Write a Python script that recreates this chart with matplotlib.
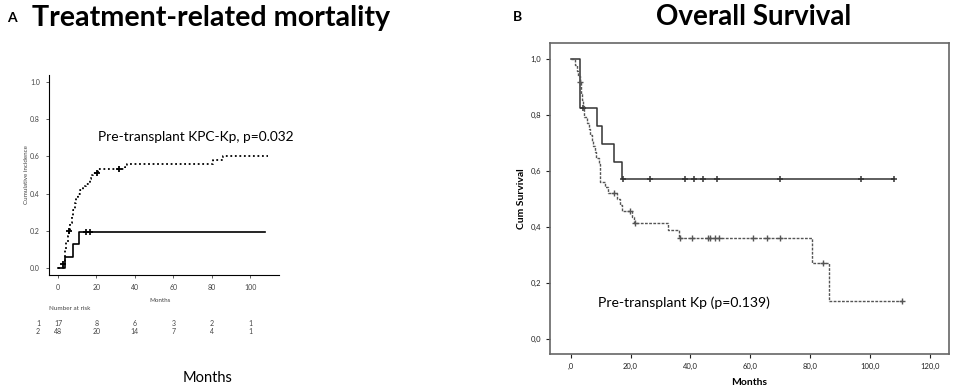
import numpy as np
import matplotlib.pyplot as plt

plt.rcParams['font.family'] = ['Lato', 'DejaVu Sans']

# ---- Panel A: treatment-related mortality (cumulative incidence) ----
a_g1_t = [0, 3.5, 8.0, 10.9]
a_g1_v = [0, 0.059, 0.125, 0.19]
a_g1_end = 107.7
a_g1_cens = [14.4, 16.8]

a_g2_t = [0, 2.5, 3.4, 3.8, 4.4, 5.0, 5.6, 6.4, 7.2, 8.0, 8.8, 9.6, 10.4,
          11.6, 13.0, 14.8, 16.6, 17.4, 18.2, 21.0, 35.0, 36.0, 80.5, 86.0]
a_g2_v = [0, 0.02, 0.06, 0.10, 0.14, 0.17, 0.20, 0.24, 0.28, 0.31, 0.35, 0.38,
          0.40, 0.42, 0.44, 0.45, 0.48, 0.50, 0.51, 0.53, 0.545, 0.558, 0.58, 0.605]
a_g2_end = 109.4
a_g2_cens = [2.8, 5.7, 20.1, 31.9]

risk_times = [0, 20, 40, 60, 80, 100]
risk_g1 = [17, 8, 6, 3, 2, 1]
risk_g2 = [48, 20, 14, 7, 4, 1]

# ---- Panel B: overall survival ----
b_g1_t = [0, 3.1, 8.7, 10.6, 14.5, 17.1]
b_g1_v = [1.0, 0.824, 0.761, 0.697, 0.634, 0.571]
b_g1_end = 107.8
b_g1_cens = [4.2, 17.4, 26.6, 38.3, 41.1, 44.2, 48.7, 69.9, 96.9, 107.8]

b_g2_t = [0, 1.5, 2.0, 2.5, 3.0, 3.3, 3.6, 3.9, 4.2, 4.5, 5.6, 6.0, 6.4, 7.0,
          7.6, 8.0, 8.5, 9.5, 9.7, 9.9, 11.5, 12.3, 15.3, 16.4, 17.1, 20.4,
          21.0, 32.4, 36.3, 80.5, 86.3]
b_g2_v = [1.0, 0.979, 0.958, 0.938, 0.917, 0.896, 0.875, 0.854, 0.833, 0.792,
          0.771, 0.75, 0.729, 0.708, 0.688, 0.667, 0.646, 0.625, 0.604, 0.563,
          0.542, 0.521, 0.50, 0.479, 0.458, 0.437, 0.414, 0.389, 0.362, 0.273, 0.137]
b_g2_end = 110.6
b_g2_cens = [3.0, 14.3, 19.9, 21.5, 36.5, 40.6, 46.0, 46.5, 48.3, 49.6,
             60.8, 65.5, 69.9, 84.4, 110.6]


def step_value(t, v, x):
    idx = np.searchsorted(t, x, side='right') - 1
    return np.array(v)[idx]


def draw_curve(ax, t, v, end, cens, ms=4, **kw):
    ax.step(t + [end], v + [v[-1]], where='post', **kw)
    ax.plot(cens, step_value(t, v, cens), '+', color=kw.get('color', 'k'),
            markersize=ms, markeredgewidth=kw.get('lw', 1))


fig = plt.figure(figsize=(9.57, 3.92), dpi=100)

# Panel A
axA = fig.add_axes([49 / 957, 1 - 275 / 392, 230 / 957, 200 / 392])
draw_curve(axA, a_g1_t, a_g1_v, a_g1_end, a_g1_cens, color='k', lw=1.2)
draw_curve(axA, a_g2_t, a_g2_v, a_g2_end, a_g2_cens, color='k', lw=1.3,
           linestyle=(0, (1, 1.5)))
axA.set_xlim(-4.7, 115)
axA.set_ylim(-0.04, 1.04)
axA.spines['top'].set_visible(False)
axA.spines['right'].set_visible(False)
axA.set_xticks([0, 20, 40, 60, 80, 100])
axA.set_yticks([0, 0.2, 0.4, 0.6, 0.8, 1.0])
axA.set_yticklabels(['0.0', '0.2', '0.4', '0.6', '0.8', '1.0'])
axA.tick_params(labelsize=5, colors='#444', length=2.5, width=0.6, pad=4)
axA.set_ylabel('Cumulative incidence', fontsize=4.5, color='#444', labelpad=1)
axA.text(20.8, 0.706, 'Pre-transplant KPC-Kp, p=0.032', fontsize=9.9,
         va='center', ha='left')

tr = axA.get_xaxis_transform()
axA.text(53, -0.13, 'Months', transform=tr, fontsize=4.5, color='#444',
         ha='center', va='center')
axA.text(-4.7, -0.17, 'Number at risk', transform=tr, fontsize=4.5,
         color='#444', ha='left', va='center')
axA.text(-10.4, -0.24, '1', transform=tr, fontsize=5, color='#444',
         ha='center', va='center')
axA.text(-10.4, -0.28, '2', transform=tr, fontsize=5, color='#444',
         ha='center', va='center')
for x, n1, n2 in zip(risk_times, risk_g1, risk_g2):
    axA.text(x, -0.24, str(n1), transform=tr, fontsize=5, color='#444',
             ha='center', va='center')
    axA.text(x, -0.28, str(n2), transform=tr, fontsize=5, color='#444',
             ha='center', va='center')

fig.text(12 / 957, 1 - 18 / 392, 'A', fontsize=10, fontweight='bold',
         ha='center', va='center')
fig.text(32 / 957, 1 - 18 / 392, 'Treatment-related mortality', fontsize=20.6,
         fontweight='bold', ha='left', va='center')
fig.text(208 / 957, 1 - 378 / 392, 'Months', fontsize=10.5, ha='center',
         va='center')

# Panel B
axB = fig.add_axes([550 / 957, 1 - 354 / 392, 399 / 957, 311 / 392])
draw_curve(axB, b_g1_t, b_g1_v, b_g1_end, b_g1_cens, ms=4, color='#333', lw=1.1)
draw_curve(axB, b_g2_t, b_g2_v, b_g2_end, b_g2_cens, ms=4, color='#555', lw=1.0,
           linestyle=(0, (2, 1)))
axB.set_xlim(-6.9, 126.3)
axB.set_ylim(-0.052, 1.057)
for s in axB.spines.values():
    s.set_color('#666')
    s.set_linewidth(1.2)
axB.set_xticks([0, 20, 40, 60, 80, 100, 120])
axB.set_xticklabels([',0', '20,0', '40,0', '60,0', '80,0', '100,0', '120,0'])
axB.set_yticks([0, 0.2, 0.4, 0.6, 0.8, 1.0])
axB.set_yticklabels(['0,0', '0,2', '0,4', '0,6', '0,8', '1,0'])
axB.tick_params(labelsize=5.5, colors='#222', length=3, width=0.8)
axB.set_xlabel('Months', fontsize=7.5, fontweight='bold', labelpad=6)
axB.set_ylabel('Cum Survival', fontsize=7.5, fontweight='bold', labelpad=3)
axB.text(9.1, 0.13, 'Pre-transplant Kp (p=0.139)', fontsize=10.1,
         ha='left', va='center')

fig.text(517 / 957, 1 - 17 / 392, 'B', fontsize=10, fontweight='bold',
         ha='center', va='center')
fig.text(754 / 957, 1 - 17 / 392, 'Overall Survival', fontsize=20,
         fontweight='bold', ha='center', va='center')

fig.savefig('out.png', dpi=100)
